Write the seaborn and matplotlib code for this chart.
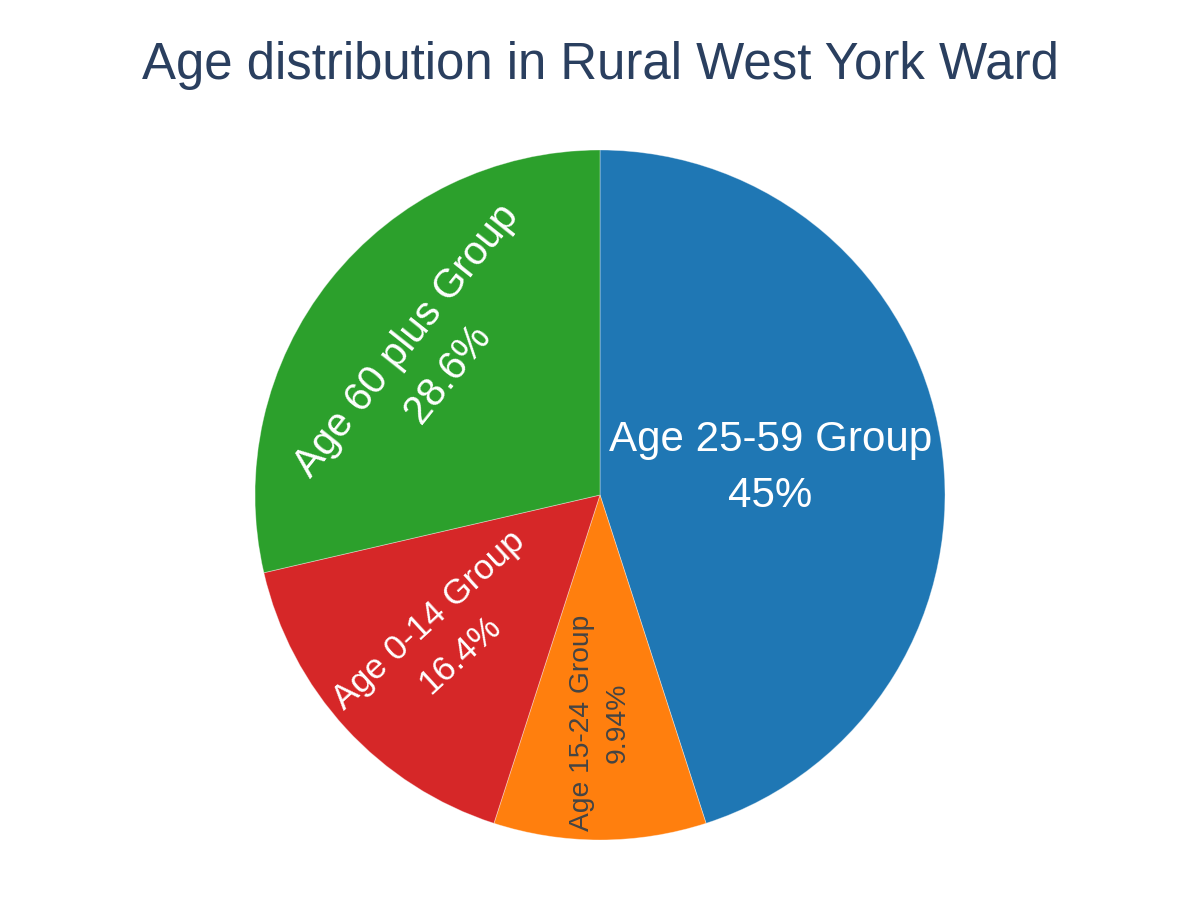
import numpy as np
import matplotlib
matplotlib.use('Agg')
from matplotlib import pyplot as plt
import seaborn as sns

# Data
groups = ['Age 25-59 Group', 'Age 15-24 Group', 'Age 0-14 Group', 'Age 60 plus Group']
shares = [45.0, 9.94, 16.4, 28.6]
colors = ['#1f77b4', '#ff7f0e', '#d62728', '#2ca02c']

# label styling per slice (radius fraction, orientation, font size, text colour)
label_r = [0.50, 0.66, 0.61, 0.64]
label_mode = ['horizontal', 'radial', 'radial', 'tangential']
label_size = [30.3, 20.3, 25, 29]
label_color = ['white', '#444444', 'white', 'white']

sns.set_theme(style='white')
plt.rcParams['font.family'] = ['Liberation Sans', 'DejaVu Sans']

fig = plt.figure(figsize=(12, 9), dpi=100)
ax = fig.add_axes([0, 0, 1, 1])
R = 345.0

wedges, _ = ax.pie(shares, colors=colors, startangle=90, counterclock=False,
                   radius=1, center=(0, 0),
                   wedgeprops=dict(linewidth=0.6, edgecolor=(1, 1, 1, 0.4)))
# pie resets the limits, so set them afterwards
ax.set_xlim(-600 / R, 600 / R)
ax.set_ylim(-405 / R, 495 / R)
ax.set_aspect('equal')
ax.axis('off')

total = sum(shares)
start = 90.0
for i, (name, val) in enumerate(zip(groups, shares)):
    span = val / total * 360
    mid = round(start - span / 2, 6)
    start -= span
    rad = np.deg2rad(mid)
    x, y = label_r[i] * np.cos(rad), label_r[i] * np.sin(rad)
    if label_mode[i] == 'horizontal':
        rot = 0
    elif label_mode[i] == 'radial':
        rot = 90 - ((90 - mid) % 180)
    else:
        rot = 90 - ((-mid) % 180)
    ax.text(x, y, f'{name}\n{val:.3g}%', ha='center', va='center',
            rotation=rot, rotation_mode='anchor', fontsize=label_size[i],
            color=label_color[i], linespacing=1.5)

fig.text(0.5, 1 - 66 / 900, 'Age distribution in Rural West York Ward',
         ha='center', va='center', fontsize=36.7, color='#2a3f5f')

fig.savefig('out.png', dpi=100)
